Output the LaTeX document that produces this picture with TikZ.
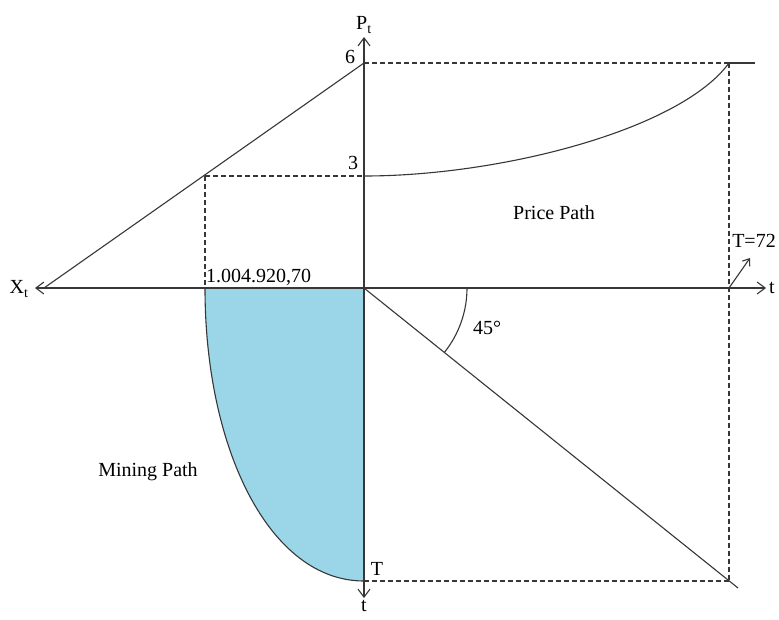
\documentclass[tikz,border=0pt]{standalone}
\usepackage{fontspec}
\setmainfont{Liberation Serif}
\usetikzlibrary{arrows.meta}
\definecolor{lc}{RGB}{55,55,55}
\definecolor{fillblue}{RGB}{155,214,232}
\begin{document}
\begin{tikzpicture}[x=1pt,y=-1pt,
  ln/.style={draw=lc,line width=1.1pt},
  dsh/.style={draw=lc,line width=1.1pt,dash pattern=on 5pt off 3pt},
  arr/.style={-{Straight Barb[length=8pt,width=12pt]}},
  lbl/.style={font=\fontsize{20}{24}\selectfont,inner sep=0pt}]
\useasboundingbox[fill=white] (0,0) rectangle (779,619);
% key points
\coordinate (O) at (364,288);
\coordinate (ytop) at (364,37);
\coordinate (ybot) at (364,598);
\coordinate (xleft) at (35,288);
\coordinate (xright) at (766,288);
\coordinate (six) at (364,63);
\coordinate (three) at (364,176);
\coordinate (A) at (205,176);
\coordinate (A0) at (205,288);
\coordinate (L0) at (44,288);
\coordinate (R6) at (729,63);
\coordinate (R6e) at (755,63);
\coordinate (R0) at (729,288);
\coordinate (RB) at (729,581);
\coordinate (TB) at (364,581);
\coordinate (D) at (738,588);
\coordinate (T72) at (750,258);
% mining area
\fill[fillblue] (A0) .. controls (205,450) and (270,581) .. (TB) -- (O) -- cycle;
\draw[ln] (A0) .. controls (205,450) and (270,581) .. (TB);
% axes
\draw[ln,arr] (O) -- (ytop);
\draw[ln,arr] (O) -- (ybot);
\draw[ln,arr] (O) -- (xleft);
\draw[ln,arr] (O) -- (xright);
% left slanted line
\draw[ln] (L0) -- (six);
% price path
\draw[ln] (three) .. controls (500,176) and (680,130) .. (R6);
\draw[ln] (R6) -- (R6e);
% dashed guides
\draw[dsh] (A) -- (three);
\draw[dsh] (A) -- (A0);
\draw[dsh] (six) -- (R6);
\draw[dsh] (R6) -- (RB);
\draw[dsh] (TB) -- (RB);
% diagonal and angle
\draw[ln] (O) -- (D);
\draw[ln] ([shift={(0:103pt)}]O) arc[start angle=0,end angle=-38.7,radius=103pt];
% T=72 arrow
\draw[ln,-{Straight Barb[length=6pt,width=9pt]}] (R0) -- (T72);
% labels
\node[lbl] (lPt) at (364,25) {P\textsubscript{t}};
\node[lbl] (l6) at (350,57) {6};
\node[lbl] (l3) at (353,163) {3};
\node[lbl] (lXt) at (19,289) {X\textsubscript{t}};
\node[lbl] (ltr) at (772,288) {t};
\node[lbl,anchor=base west] (lnum) at (206,282) {1.004.920,70};
\node[lbl] (lprice) at (554,213) {Price Path};
\node[lbl] (lT72) at (754,241) {T=72};
\node[lbl] (l45) at (487,328) {45°};
\node[lbl] (lmin) at (148,472) {Mining Path};
\node[lbl] (lT) at (377,569) {T};
\node[lbl] (ltb) at (364,606) {t};
\end{tikzpicture}
\end{document}
